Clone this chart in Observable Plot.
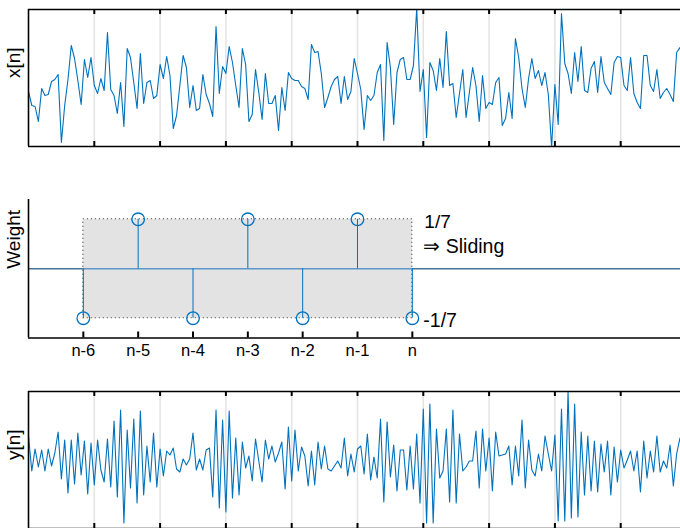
<!DOCTYPE html>
<html><head><meta charset="utf-8">
<script src="https://cdn.jsdelivr.net/npm/d3@7"></script>
<script src="https://cdn.jsdelivr.net/npm/@observablehq/plot@0.6"></script>
<style>
body{margin:0;background:#fff;}
#chart{position:relative;width:680px;height:528px;overflow:hidden;background:#fff;}
#chart svg{position:absolute;left:0;}
</style></head><body><div id="chart"></div>
<script>
// input signal x[n] (arbitrary units)
const xn = [-1.3,-2.7,-2.8,-4.3,-1.0,-1.7,-1.6,-0.3,-0.1,0.4,
-6.4,-2.7,-0.1,3.3,2.0,-0.2,-2.6,1.9,0.1,2.1,
-0.7,-1.5,0.0,-1.2,4.6,-1.1,-1.7,-3.5,-0.4,-4.8,
3.0,2.1,-0.4,-3.0,2.5,-2.5,-0.4,-0.2,-2.0,-1.7,
1.4,0.0,2.2,0.3,-5.0,-3.7,-0.7,2.3,1.1,-2.9,
-0.7,-3.2,-3.0,0.4,-1.6,-2.5,-3.8,5.2,-1.5,1.2,
0.5,3.2,1.6,-0.7,-2.9,3.0,1.4,-4.3,-3.6,0.9,
-1.4,-4.1,0.5,-2.5,-2.5,-1.7,-5.2,-0.9,-3.2,0.6,
0.0,-0.2,-0.2,-0.8,-1.0,-2.1,3.4,2.6,2.7,0.5,
-2.9,-1.9,-0.8,-0.1,0.2,-2.5,0.2,-2.1,-1.3,2.0,
0.5,-1.1,-5.1,-1.7,-2.2,-1.7,0.6,1.4,-6.2,3.6,
1.1,-4.6,0.6,1.9,2.1,-0.1,-0.1,1.3,7.0,-1.3,
0.9,-5.9,1.6,0.8,-1.2,2.0,-0.9,4.7,-0.7,-0.5,
-3.9,-1.5,0.9,-3.9,-1.4,1.1,-0.7,-4.3,0.3,-3.0,
-2.4,-2.6,-0.4,0.1,-4.7,-4.0,-1.4,-4.0,4.0,2.1,
-1.0,-2.9,0.0,2.0,0.0,0.8,-0.7,0.6,-1.6,-6.9,
-0.6,-4.6,6.5,1.5,0.5,-1.5,2.6,-0.3,3.2,-1.2,
-1.4,1.0,1.7,-1.4,2.2,-0.4,-1.0,-1.6,1.6,2.2,
2.1,-0.7,-1.2,2.1,-1.5,-2.4,-3.0,2.3,2.3,-0.7,
-1.3,0.9,-2.0,-1.4,-1.0,-1.6,-2.3,2.6,3.1,1.8,
0.3];
const xnDomain = [-6.8, 6.9];

// output signal y[n]
const yn = [2.4,-1.1,1.1,-0.7,1.0,-1.1,1.1,-0.6,0.7,2.8,
-1.9,2.0,-3.3,2.0,-2.4,2.7,-1.5,1.9,-3.4,1.7,
-2.5,2.0,-1.0,-2.2,2.1,-2.7,3.9,-3.7,5.0,-6.3,
3.0,-2.8,4.1,-4.3,4.9,-3.5,1.4,-2.2,2.7,-2.7,
1.1,-1.6,0.9,0.5,1.2,-0.9,-1.2,0.1,-0.5,0.1,
2.7,-1.0,0.1,-1.0,1.0,1.2,-3.7,5.0,-4.8,4.0,
-5.2,4.9,-3.8,2.2,-3.5,1.8,-0.8,0.4,-2.1,2.1,
-0.1,-2.2,2.0,0.1,1.4,-0.2,0.7,1.8,-2.9,3.3,
-2.1,3.0,-1.1,1.3,0.4,-2.6,0.9,-2.5,1.8,-0.9,
1.4,-0.9,-1.1,-0.6,-0.1,-0.8,2.2,-1.6,0.6,-1.2,
1.1,1.4,-1.4,2.6,-2.0,0.3,-1.8,4.1,-4.2,3.8,
-1.7,1.5,-3.1,1.0,1.0,-3.0,1.4,-2.9,2.6,-4.3,
5.1,-6.3,5.6,-6.3,3.1,-1.8,-1.1,3.1,-4.2,5.0,
-4.3,2.6,-1.1,-0.7,-0.1,-0.1,2.9,-2.8,3.1,-1.1,
2.2,-3.1,2.8,0.4,0.5,0.6,1.4,-2.5,1.4,-1.6,
4.0,-2.8,2.0,-1.0,-1.6,0.6,-1.1,2.4,0.6,-1.1,
2.5,-6.1,5.1,-6.1,6.9,-5.8,5.6,-5.7,2.8,-3.5,
2.4,-3.1,1.9,-3.2,1.6,-1.2,1.9,-3.5,1.3,-2.2,
1.0,-0.8,0.0,0.9,-1.1,0.9,-3.2,1.9,-1.8,0.9,
-1.2,2.4,-1.2,-0.1,-0.8,1.5,-2.6,0.6,2.2,-0.3,
0.3];
const ynDomain = [-6.85, 6.85];

const sampleDomain = [0, 200];
const gridTicks = [20, 40, 60, 80, 100, 120, 140, 160, 180];

// filter weights
const lagPos = [-6, -5, -4, -3, -2, -1, 0];
const lagLabels = ["n-6", "n-5", "n-4", "n-3", "n-2", "n-1", "n"];
const weights = [-1/7, 1/7, -1/7, 1/7, -1/7, 1/7, -1/7];
const lagDomain = [-7, 5];
const weightDomain = [-0.2, 0.2];
const weightTexts = ["1/7", "\u21D2\u00A0Sliding", "-1/7"];
const axisLabels = ["x[n]", "Weight", "y[n]"];

const blue = "#0072BD";
const font = "'Liberation Sans', Arial, Helvetica, sans-serif";
const chart = document.getElementById("chart");

function place(svg, top) {
  svg.style.top = top + "px";
  svg.style.position = "absolute";
  svg.style.left = "0px";
  svg.style.maxWidth = "none";
  svg.style.background = "transparent";
  chart.appendChild(svg);
}

function signalPanel(values, domain, label, top) {
  const H = 137;
  const data = values.map((v, i) => ({n: i, v}));
  const svg = Plot.plot({
    width: 680, height: 160,
    marginTop: 9, marginBottom: 14, marginLeft: 28, marginRight: 0,
    x: {domain: sampleDomain, range: [28, 686], axis: null},
    y: {domain: domain, axis: null},
    style: {fontFamily: font, background: "transparent"},
    marks: [
      Plot.ruleX(gridTicks, {stroke: "#e3e3e3", strokeWidth: 1.5}),
      Plot.line(data, {x: "n", y: "v", stroke: blue, strokeWidth: 1.1, clip: true}),
      Plot.ruleX(gridTicks, {stroke: "black", strokeWidth: 2, insetBottom: H - 5}),
      Plot.ruleX(gridTicks, {stroke: "black", strokeWidth: 2, insetTop: H - 5}),
      Plot.ruleY(domain, {stroke: "black", strokeWidth: 1.6}),
      Plot.ruleX([sampleDomain[0]], {stroke: "black", strokeWidth: 1.6}),
      Plot.text([label], {frameAnchor: "left", dx: -15, rotate: -90, fontSize: 19, fill: "black", text: d => d})
    ]
  });
  place(svg, top);
}

signalPanel(xn, xnDomain, axisLabels[0], 0);

// weights panel
{
  const H = 138.5;
  const stems = lagPos.map((k, i) => ({k, w: weights[i], label: lagLabels[i]}));
  const box = [{x1: d3.min(lagPos), x2: d3.max(lagPos), y1: d3.min(weights), y2: d3.max(weights)}];
  const svg = Plot.plot({
    width: 680, height: 180,
    marginTop: 9, marginBottom: 32.5, marginLeft: 28, marginRight: 0,
    x: {domain: lagDomain, range: [28, 686], axis: null},
    y: {domain: weightDomain, axis: null},
    style: {fontFamily: font, background: "transparent"},
    marks: [
      Plot.ruleY([0], {stroke: "#46729c", strokeWidth: 1.4}),
      Plot.rect(box, {x1: "x1", x2: "x2", y1: "y1", y2: "y2", fill: "#e3e3e3"}),
      Plot.ruleY(box, {y: () => 0, x1: "x1", x2: "x2", stroke: "#5f97cc", strokeWidth: 1.4}),
      Plot.rect(box, {x1: "x1", x2: "x2", y1: "y1", y2: "y2", fill: "none", stroke: "#333", strokeWidth: 1.1, strokeDasharray: "1,3"}),
      Plot.ruleX(stems, {x: "k", y1: 0, y2: "w", stroke: blue, strokeWidth: 1}),
      Plot.dot(stems, {x: "k", y: "w", r: 6.3, stroke: blue, strokeWidth: 1.3, fill: "none"}),
      Plot.ruleX([lagDomain[0]], {stroke: "black", strokeWidth: 1.6}),
      Plot.ruleY([weightDomain[0]], {stroke: "black", strokeWidth: 1.6}),
      Plot.ruleX(lagPos, {stroke: "black", strokeWidth: 2, insetTop: H - 6}),
      Plot.text(stems, {x: "k", text: "label", frameAnchor: "bottom", dy: 17.5, fontSize: 16.5, fill: "black"}),
      Plot.text([weightTexts[0]], {x: () => d3.max(lagPos), y: () => d3.max(weights), text: d => d, textAnchor: "start", dx: 12, dy: 3, fontSize: 19, fill: "black"}),
      Plot.text([weightTexts[1]], {x: () => d3.max(lagPos), y: () => d3.max(weights), text: d => d, textAnchor: "start", dx: 11, dy: 27, fontSize: 19.5, fill: "black"}),
      Plot.text([weightTexts[2]], {x: () => d3.max(lagPos), y: () => d3.min(weights), text: d => d, textAnchor: "start", dx: 11, dy: 2.5, fontSize: 19.5, fill: "black"}),
      Plot.text([axisLabels[1]], {frameAnchor: "left", dx: -15, rotate: -90, fontSize: 19, fill: "black", text: d => d})
    ]
  });
  place(svg, 190);
}

signalPanel(yn, ynDomain, axisLabels[2], 382);
</script></body></html>
